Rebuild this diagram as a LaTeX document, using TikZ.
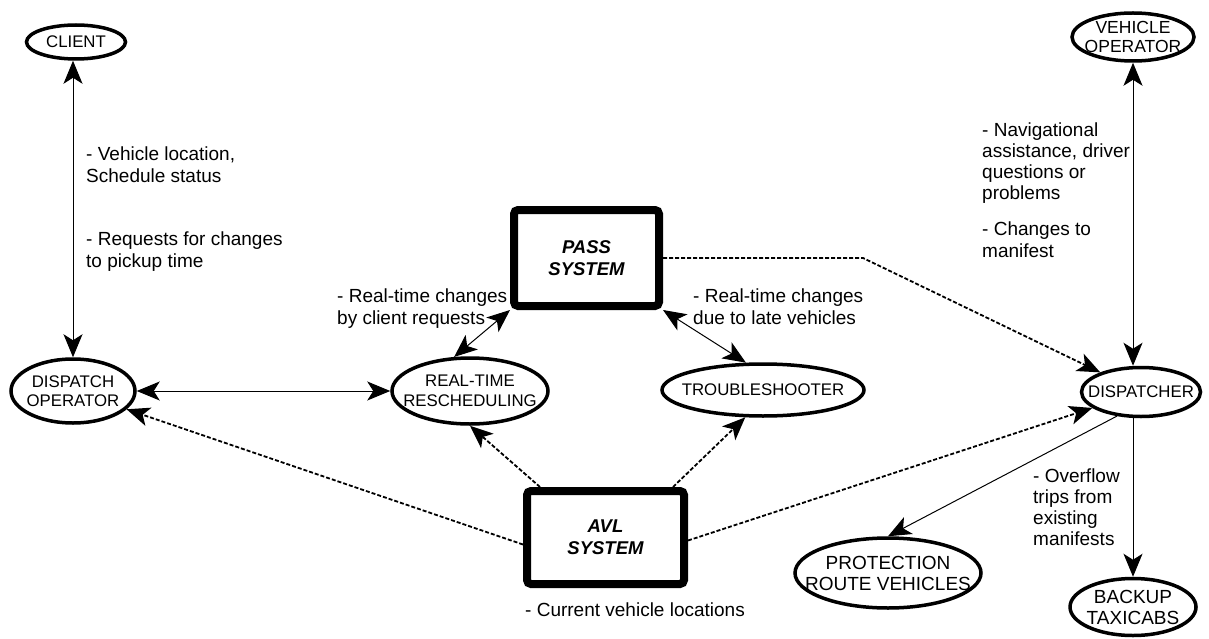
\documentclass[tikz,border=0pt]{standalone}
\usepackage{fontspec}
\setmainfont{Liberation Sans}
\usetikzlibrary{arrows.meta,shapes.geometric}
\tikzset{bigtip/.tip={Stealth[length=23pt, width=19pt, inset=6pt]}}
\begin{document}
\begin{tikzpicture}[x=1pt,y=-1pt,
  ell/.style={draw, ellipse, line width=3.5pt, inner sep=0pt},
  sysbox/.style={draw, rectangle, rounded corners=4pt, line width=8pt, inner sep=0pt,
    font=\fontsize{18.5pt}{21.7pt}\selectfont\bfseries\itshape, align=center},
  ntext/.style={font=\fontsize{16.8pt}{19.5pt}\selectfont, align=center, inner sep=0pt},
  btext/.style={font=\fontsize{19pt}{21pt}\selectfont, align=center, inner sep=0pt},
  lbl/.style={font=\fontsize{19pt}{21.7pt}\selectfont, align=left, inner sep=0pt, anchor=north west},
  conn/.style={line width=1pt},
  dot/.style={line width=1.8pt, dash pattern=on 4pt off 2pt}
]
\useasboundingbox (0,0) rectangle (1209,639);

% nodes
\node[ell, minimum width=99, minimum height=34, label={[ntext]center:CLIENT}] (client) at (76,42) {};
\node[ell, minimum width=124, minimum height=64, label={[ntext]center:DISPATCH\\OPERATOR}] (dispop) at (73,391) {};
\node[ell, minimum width=156, minimum height=66, label={[ntext]center:REAL-TIME\\RESCHEDULING}] (resched) at (470,391) {};
\node[ell, minimum width=202, minimum height=52, label={[ntext]center:TROUBLESHOOTER}] (trouble) at (763,390) {};
\node[ell, minimum width=119, minimum height=49, label={[ntext]center:DISPATCHER}] (dispatcher) at (1141,392) {};
\node[ell, minimum width=122, minimum height=48, label={[ntext, font=\fontsize{17.5pt}{19.5pt}\selectfont]center:VEHICLE\\OPERATOR}] (vehop) at (1133,37) {};
\node[ell, minimum width=186, minimum height=70, label={[btext]center:PROTECTION\\ROUTE VEHICLES}] (protect) at (888,573) {};
\node[ell, minimum width=126, minimum height=57, label={[btext]center:BACKUP\\TAXICABS}] (backup) at (1133,607) {};

\node[sysbox, minimum width=145, minimum height=96] (pass) at (586.5,258) {PASS\\SYSTEM};
\node[sysbox, minimum width=157, minimum height=93] (avl) at (605.5,537.5) {AVL\\SYSTEM};

\coordinate (bend) at (863,258);

% connectors
\draw[conn, bigtip-bigtip] (client.south -| dispop.north) -- (dispop.north);
\draw[conn, bigtip-bigtip] (dispop.east) -- (resched.west);
\draw[conn, bigtip-bigtip] (resched.115) -- (pass.south west);
\draw[conn, bigtip-bigtip] (pass.south east) -- (trouble.122);
\draw[dot, -bigtip] ([xshift=17pt]avl.north west) -- (resched.south);
\draw[dot, -bigtip] ([xshift=-15pt]avl.north east) -- (trouble.237);
\draw[dot, -bigtip] ([yshift=-7pt]avl.west) -- (dispop);
\draw[dot, -bigtip] ([yshift=-3pt]avl.east) -- (dispatcher);
\draw[dot, -bigtip] (pass.east) -- (bend) -- (dispatcher);
\draw[conn, bigtip-bigtip] (vehop.south) -- (vehop.south |- dispatcher.north);
\draw[conn, -bigtip] (backup.north |- dispatcher.south) -- (backup.north);
\draw[conn, -bigtip] (dispatcher.225) -- (protect.north);

% labels
\node[lbl] (l1) at (86,147) {- Vehicle location,\\Schedule status};
\node[lbl] (l2) at (86,232) {- Requests for changes\\to pickup time};
\node[lbl] (l3) at (337,289) {- Real-time changes\\by client requests};
\node[lbl] (l4) at (693,289) {- Real-time changes\\due to late vehicles};
\node[lbl, font=\fontsize{19pt}{20.8pt}\selectfont] (l5) at (982,123) {- Navigational\\assistance, driver\\questions or\\problems};
\node[lbl] (l6) at (982,222) {- Changes to\\manifest};
\node[lbl, font=\fontsize{19pt}{21pt}\selectfont] (l7) at (1033,469) {- Overflow\\trips from\\existing\\manifests};
\node[lbl] (l8) at (525,603) {- Current vehicle locations};
\end{tikzpicture}
\end{document}
